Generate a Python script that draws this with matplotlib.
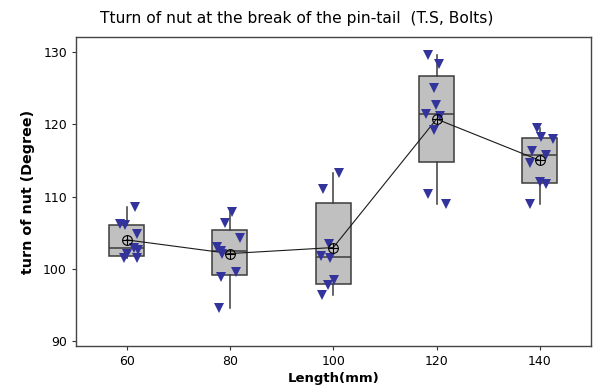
import numpy as np
import matplotlib
matplotlib.use("Agg")
import matplotlib.pyplot as plt

lengths = [60, 80, 100, 120, 140]
turn_60 = [108.5, 106.2, 106.0, 104.8, 102.9, 102.6, 102.0, 101.5, 101.5]
turn_80 = [107.9, 106.3, 104.3, 103.0, 102.5, 102.05, 99.5, 98.8, 94.6]
turn_100 = [113.3, 111.1, 103.4, 101.7, 101.5, 98.5, 97.7, 96.3]
turn_120 = [129.6, 128.4, 125.0, 122.7, 121.4, 121.1, 119.2, 110.3, 108.9]
turn_140 = [119.5, 118.2, 118.0, 116.3, 115.7, 114.7, 112.0, 111.7, 108.9]
jitter_60 = [1.6, -1.3, -0.3, 2.1, 1.5, 2.2, 0.0, -0.5, 2.1]
jitter_80 = [0.4, -0.9, 2.0, -2.5, -1.8, -1.6, 1.1, -1.8, -2.2]
jitter_100 = [1.1, -1.9, -0.8, -2.4, -0.6, 0.2, -1.0, -2.2]
jitter_120 = [-1.7, 0.4, -0.4, -0.2, -2.1, 0.6, -0.5, -1.7, 1.9]
jitter_140 = [-0.6, 0.3, 2.6, -1.5, 1.1, -1.9, 0.0, 1.1, -1.9]
x_ticks = [60, 80, 100, 120, 140]
y_ticks = [90, 100, 110, 120, 130]

groups = [turn_60, turn_80, turn_100, turn_120, turn_140]
jitters = [jitter_60, jitter_80, jitter_100, jitter_120, jitter_140]

plt.rcParams['font.family'] = ['DejaVu Sans']

fig = plt.figure(figsize=(5.93, 3.90), dpi=100)
ax = fig.add_axes([76/593, 1-346/390, (591-76)/593, (346-37)/390])

stats = []
for g in groups:
    a = np.array(g)
    q1, med, q3 = np.percentile(a, [25, 50, 75], method='weibull')
    iqr = q3 - q1
    lo = a[a >= q1 - 1.5*iqr].min()
    hi = a[a <= q3 + 1.5*iqr].max()
    stats.append(dict(q1=q1, med=med, q3=q3, whislo=lo, whishi=hi,
                      mean=a.mean(), fliers=[]))

ax.bxp(stats, positions=lengths, widths=6.8, patch_artist=True,
       showcaps=False, showfliers=False, showmeans=False,
       boxprops=dict(facecolor='#c0c0c0', edgecolor='#3c3c3c', linewidth=1.1),
       medianprops=dict(color='#3c3c3c', linewidth=1.1),
       whiskerprops=dict(color='#3c3c3c', linewidth=1.1), zorder=2)

means = [s['mean'] for s in stats]
ax.plot(lengths, means, color='#1a1a1a', linewidth=0.8, zorder=3)

for x, g, j in zip(lengths, groups, jitters):
    ax.plot(np.array(j) + x, g, linestyle='none', marker='v', markersize=7.5,
            color='#33339c', markeredgewidth=0, zorder=4)

ax.plot(lengths, means, linestyle='none', marker='o', markersize=7,
        markerfacecolor='none', markeredgecolor='black', markeredgewidth=0.8, zorder=5)
ax.plot(lengths, means, linestyle='none', marker='+', markersize=7,
        color='black', markeredgewidth=0.8, zorder=5)

ax.set_xlim(50.2, 149.9)
ax.set_ylim(89.3, 132.1)
ax.set_xticks(x_ticks)
ax.set_xticklabels([str(v) for v in x_ticks])
ax.set_yticks(y_ticks)
ax.set_yticklabels([str(v) for v in y_ticks])
ax.tick_params(labelsize=9, length=3, width=0.8, color='#333333')
for sp in ax.spines.values():
    sp.set_color('#444444')
    sp.set_linewidth(1.0)

ax.set_xlabel('Length(mm)', fontsize=9.5, fontweight='bold', labelpad=3)
ax.set_ylabel('turn of nut (Degree)', fontsize=10.3, fontweight='bold', labelpad=6)
fig.text(0.5, 1-18/390, 'Tturn of nut at the break of the pin-tail  (T.S, Bolts)',
         ha='center', va='center', fontsize=11.2)

fig.savefig('out.png', dpi=100)
